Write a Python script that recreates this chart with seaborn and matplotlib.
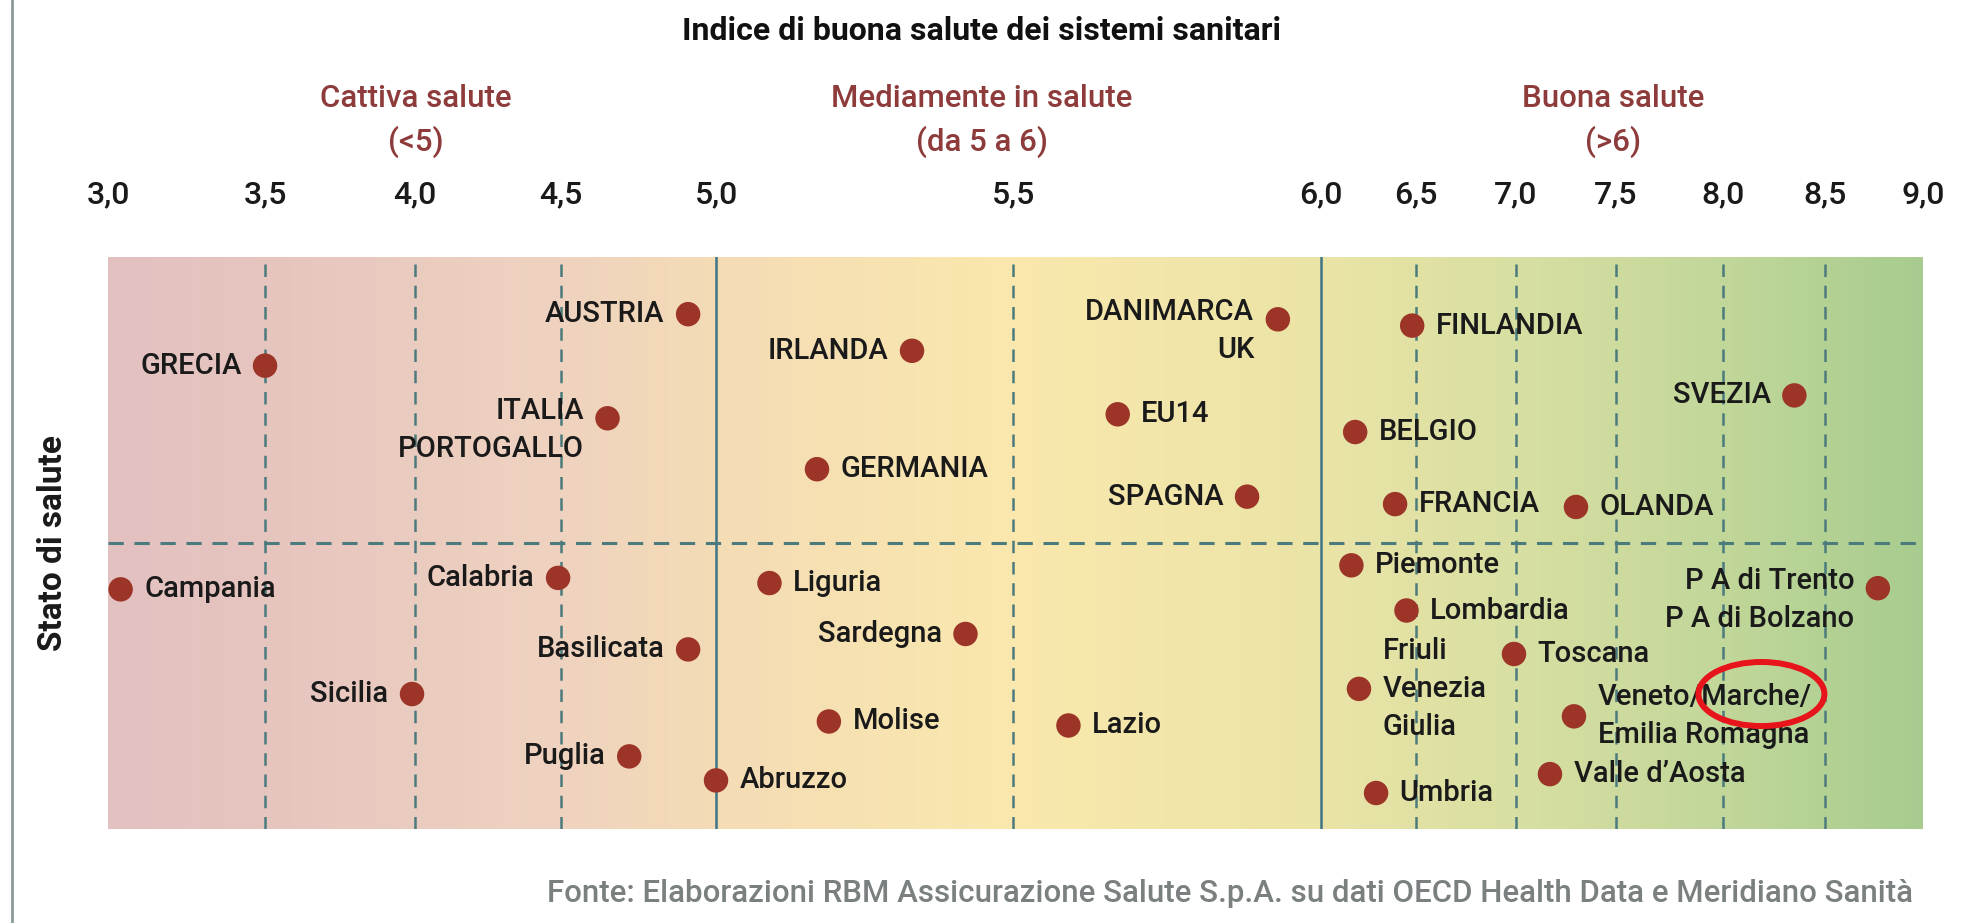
import numpy as np
import pandas as pd
import seaborn as sns
import matplotlib.pyplot as plt
from matplotlib.colors import LinearSegmentedColormap
from matplotlib.patches import Ellipse
from matplotlib.lines import Line2D

# --- data (indice di buona salute, stato di salute in unita' arbitrarie) ---
COUNTRIES = ['GRECIA', 'AUSTRIA', 'ITALIA\nPORTOGALLO', 'IRLANDA', 'GERMANIA',
             'DANIMARCA\nUK', 'EU14', 'SPAGNA', 'FINLANDIA', 'BELGIO',
             'FRANCIA', 'OLANDA', 'SVEZIA']
COUNTRY_X = [3.50, 4.91, 4.65, 5.33, 5.17, 5.93, 5.67, 5.88, 6.48, 6.18, 6.39, 7.30, 8.35]
COUNTRY_Y = [81.0, 90.0, 71.8, 83.6, 62.9, 89.1, 72.5, 58.1, 88.0, 69.4, 56.8, 56.3, 75.8]

REGIONS = ['Campania', 'Calabria', 'Basilicata', 'Sicilia', 'Puglia', 'Abruzzo',
           'Liguria', 'Sardegna', 'Molise', 'Lazio', 'Piemonte', 'Lombardia',
           'Friuli\nVenezia\nGiulia', 'Toscana', 'Veneto/Marche/\nEmilia Romagna',
           "Valle d\u2019Aosta", 'Umbria', 'P A di Trento\nP A di Bolzano']
REGION_X = [3.04, 4.49, 4.91, 3.99, 4.72, 5.00, 5.09, 5.42, 5.19, 5.59, 6.16, 6.45,
            6.20, 6.99, 7.29, 7.17, 6.29, 8.77]
REGION_Y = [41.9, 43.9, 31.4, 23.6, 12.7, 8.5, 43.0, 34.1, 18.8, 18.1, 46.1, 38.2,
            24.5, 30.6, 19.7, 9.6, 6.3, 42.1]

TICKS = [3.0, 3.5, 4.0, 4.5, 5.0, 5.5, 6.0, 6.5, 7.0, 7.5, 8.0, 8.5, 9.0]
TICK_LABELS = [f'{t:.1f}'.replace('.', ',') for t in TICKS]

CLASSES = ['Cattiva salute\n(<5)', 'Mediamente in salute\n(da 5 a 6)', 'Buona salute\n(>6)']

# label placement (l = text left of the dot, r = right)
COUNTRY_SIDE = ['l', 'l', 'l', 'l', 'r', 'l', 'r', 'l', 'r', 'r', 'r', 'r', 'l']
REGION_SIDE = ['r', 'l', 'l', 'l', 'l', 'r', 'r', 'l', 'r', 'r', 'r', 'r',
               'r', 'r', 'r', 'r', 'r', 'l']
CENTER_BLOCK = {'Friuli\nVenezia\nGiulia', 'Veneto/Marche/\nEmilia Romagna'}

# the printed axis is not linear: tick spacing taken from the original layout
TICK_POS = np.array([108, 265, 415, 561, 716, 1013, 1321, 1416, 1516, 1616, 1723, 1825, 1923])
TICK_POS = (TICK_POS - TICK_POS[0]) / (TICK_POS[-1] - TICK_POS[0])


def fwd(v):
    return np.interp(v, TICKS, TICK_POS)


def inv(p):
    return np.interp(p, TICK_POS, TICKS)


df = pd.concat([
    pd.DataFrame({'nome': COUNTRIES, 'indice': COUNTRY_X, 'stato': COUNTRY_Y, 'lato': COUNTRY_SIDE}),
    pd.DataFrame({'nome': REGIONS, 'indice': REGION_X, 'stato': REGION_Y, 'lato': REGION_SIDE}),
], ignore_index=True)

sns.set_theme(style='white')
plt.rcParams['font.family'] = ['Roboto', 'DejaVu Sans']
FS = 21

fig = plt.figure(figsize=(19.61, 9.23), dpi=100)
ax = fig.add_axes([0.0551, 0.1018, 0.9255, 0.6198])
ax.set_xscale('function', functions=(fwd, inv))
ax.set_xlim(3.0, 9.0)
ax.set_ylim(0, 100)

# background gradient red -> yellow -> green
cmap = LinearSegmentedColormap.from_list('salute', [
    (0.00, '#e2c1c1'), (0.10, '#e7c6bf'), (0.25, '#efd3bf'), (0.335, '#f4dcb6'),
    (0.50, '#fae8ad'), (0.668, '#ebe4a7'), (0.78, '#d8dfa2'), (0.89, '#c2d79a'),
    (1.00, '#a8cc8f')])
ax.imshow(np.linspace(0, 1, 512).reshape(1, -1), cmap=cmap, aspect='auto',
          extent=[0, 1, 0, 1], transform=ax.transAxes, zorder=0)

for t in TICKS[1:-1]:
    if t in (5.0, 6.0):
        ax.axvline(t, color='#3f7486', lw=1.8, zorder=1)
    else:
        ax.axvline(t, color='#4c7b7d', lw=1.8, dashes=(5, 3.5), zorder=1)
ax.axhline(50, color='#4c7b7d', lw=2.2, dashes=(5, 3.5), zorder=1)

sns.scatterplot(data=df, x='indice', y='stato', color='#9c3427', s=310,
                edgecolor='none', legend=False, ax=ax, zorder=5)

for _, r in df.iterrows():
    right = r['lato'] == 'r'
    multi = '\n' in r['nome']
    if multi and r['nome'] not in CENTER_BLOCK:
        va, dy = 'top', FS * 0.72
    else:
        va, dy = 'center', 0
    ax.annotate(r['nome'], (r['indice'], r['stato']), xytext=(17 if right else -17, dy),
                textcoords='offset points', ha='left' if right else 'right', va=va,
                fontsize=FS, fontweight='medium', color='#1a1a1a', linespacing=1.45,
                zorder=6)

ax.xaxis.tick_top()
ax.set_xticks(TICKS)
ax.set_xticklabels(TICK_LABELS, fontweight='medium')
ax.tick_params(axis='x', length=0, pad=34, labelsize=23, labelcolor='#1a1a1a')
ax.set_yticks([])
ax.set_xlabel('')
ax.set_ylabel('Stato di salute', fontsize=24, fontweight='bold', color='#1a1a1a', labelpad=28)
for s in ax.spines.values():
    s.set_visible(False)

# highlight on Marche
ax.add_patch(Ellipse((0.911, 0.236), 0.0694, 0.112, transform=ax.transAxes,
                     fill=False, edgecolor='#e8141c', lw=4.3, zorder=7))

fig.text(982 / 1961, 1 - 31 / 923, 'Indice di buona salute dei sistemi sanitari',
         ha='center', va='center', fontsize=23, fontweight='bold', color='#111111')
for cx, txt in zip([416, 982, 1613], CLASSES):
    fig.text(cx / 1961, 1 - 121 / 923, txt, ha='center', va='center',
             fontsize=22.5, fontweight='medium', color='#8e3b3b', linespacing=1.5)
fig.text(1913 / 1961, 1 - 893 / 923,
         'Fonte: Elaborazioni RBM Assicurazione Salute S.p.A. su dati OECD Health Data e Meridiano Sanit\u00e0',
         ha='right', va='center', fontsize=22.5, fontweight='medium', color='#7a7f80')
fig.add_artist(Line2D([12 / 1961, 12 / 1961], [0, 1], transform=fig.transFigure,
                      color='#8c9a9a', lw=2))

fig.savefig('out.png', dpi=100)
